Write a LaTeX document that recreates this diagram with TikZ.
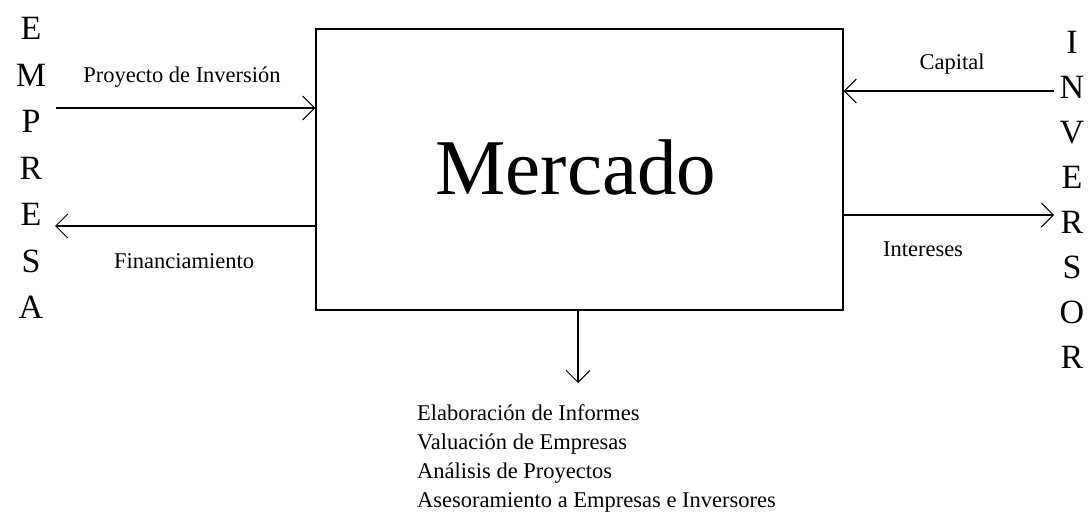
\documentclass[tikz,border=0pt]{standalone}
\usepackage{fontspec}
\setmainfont{Liberation Serif}
\usetikzlibrary{arrows.meta}
\begin{document}
\begin{tikzpicture}[x=1pt,y=-1pt,
  conn/.style={line width=1.2pt,-{Straight Barb[length=12pt,width=24pt,line width=1pt]}},
  lbl/.style={font=\fontsize{22.5}{27}\selectfont,inner sep=0pt},
  vword/.style={align=center,inner sep=0pt},
  mainbox/.style={draw,line width=1.3pt,minimum width=527pt,minimum height=281pt,inner sep=0pt}]
\useasboundingbox (0,0) rectangle (1092,513);
\node[mainbox] (box) at (579.5,169.5) {};
\node[font=\fontsize{79}{90}\selectfont,inner sep=0pt] (title) at (576,167) {Mercado};
\node[vword,font=\fontsize{34}{46.5}\selectfont] (empresa) at (31,168) {E\\M\\P\\R\\E\\S\\A};
\node[vword,font=\fontsize{34}{45}\selectfont] (inversor) at (1072,200) {I\\N\\V\\E\\R\\S\\O\\R};
\coordinate (e1) at (56,108);
\coordinate (e2) at (55,226);
\coordinate (i1) at (1054,91);
\coordinate (i2) at (1054,215);
\coordinate (d1) at (578,310);
\coordinate (d2) at (578,383);
\draw[conn] (e1) -- (e1 -| box.west);
\draw[conn] (e2 -| box.west) -- (e2);
\draw[conn] (i1) -- (i1 -| box.east);
\draw[conn] (i2 -| box.east) -- (i2);
\draw[conn] (d1) -- (d2);
\node[lbl] (l1) at (182,77) {Proyecto de Inversión};
\node[lbl] (l2) at (184,261) {Financiamiento};
\node[lbl] (l3) at (952,64) {Capital};
\node[lbl] (l4) at (923,249) {Intereses};
\node[lbl,anchor=north west,align=left,font=\fontsize{22.5}{29}\selectfont] (list) at (417,404)
  {Elaboración de Informes\\Valuación de Empresas\\Análisis de Proyectos\\Asesoramiento a Empresas e Inversores};
\end{tikzpicture}
\end{document}
